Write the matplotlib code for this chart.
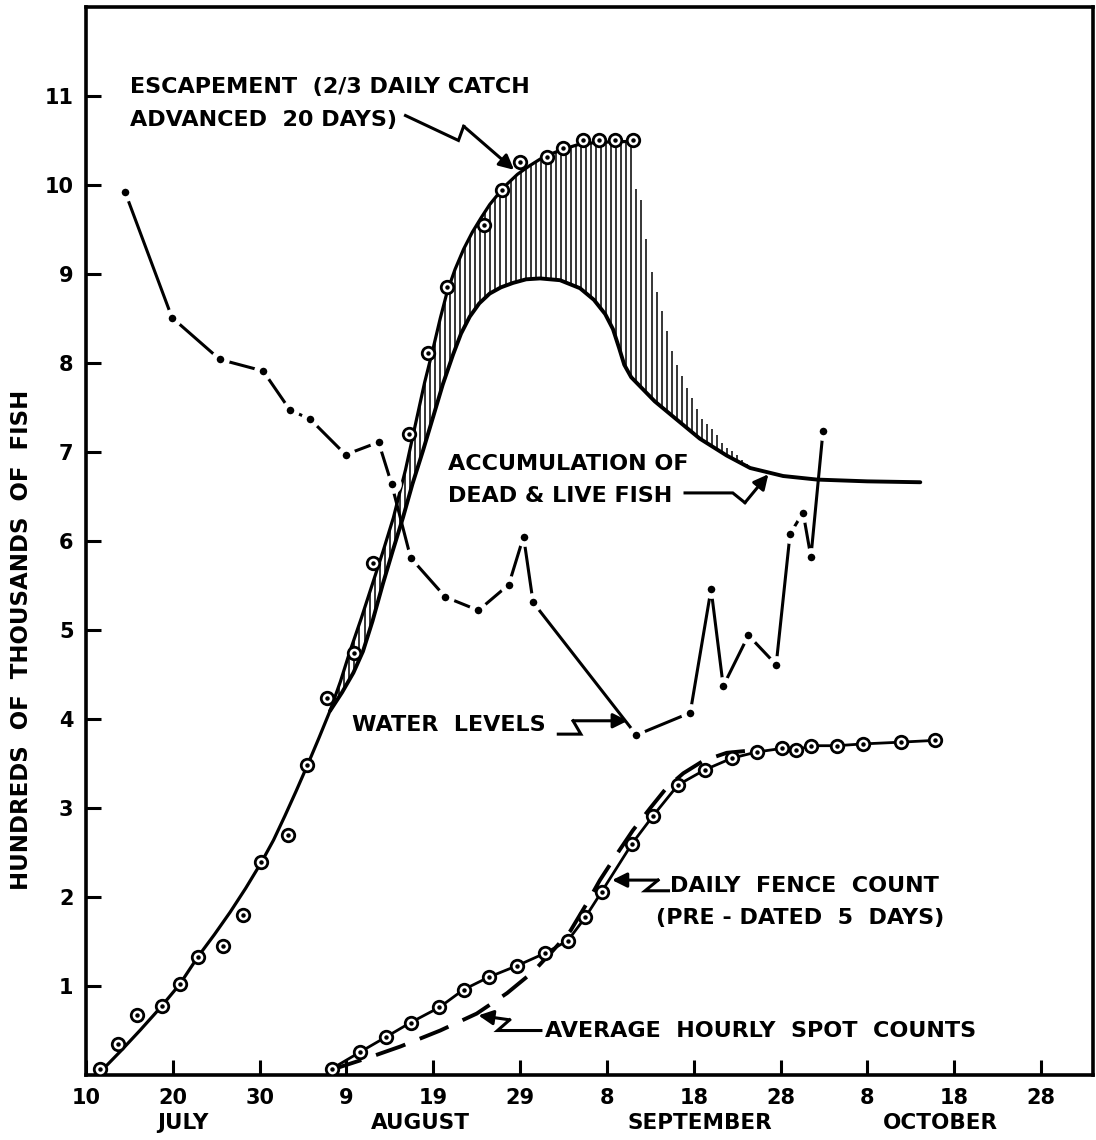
import numpy as np
import matplotlib
matplotlib.use("Agg")
import matplotlib.pyplot as plt

plt.rcParams['font.family'] = ['DejaVu Sans']
plt.rcParams['font.weight'] = 'bold'

# days are counted from 10 July; values in hundreds of thousands of fish

# escapement (2/3 daily catch advanced 20 days), observed points
esc_day = [1.6, 3.7, 5.9, 8.8, 10.8, 12.9, 15.8, 18.1, 20.2, 23.3, 25.5, 27.8,
           30.9, 33.1, 37.2, 39.4, 41.6, 45.9, 47.9, 50.0, 53.1, 55.0, 57.3,
           59.1, 60.9, 63.0]
esc_val = [0.07, 0.35, 0.67, 0.77, 1.02, 1.33, 1.45, 1.80, 2.39, 2.70, 3.48,
           4.24, 4.74, 5.75, 7.20, 8.11, 8.85, 9.55, 9.94, 10.26, 10.31, 10.41,
           10.50, 10.50, 10.50, 10.51]

# smoothed escapement curve
esc_fit_day = [1.6, 4.0, 6.2, 8.5, 10.8, 12.9, 14.8, 16.6, 18.4, 20.2, 21.6,
               22.9, 24.2, 25.5, 26.8, 28.1, 29.3, 30.4, 31.7, 32.9, 34.2,
               35.4, 36.8, 38.1, 39.0, 39.9, 40.8, 41.6, 42.5, 43.5, 44.5,
               45.5, 46.5, 47.5, 48.5, 49.7, 51.0, 52.3, 53.6, 54.9, 56.9,
               59.2, 63.0]
esc_fit_val = [0.03, 0.27, 0.50, 0.75, 1.02, 1.33, 1.58, 1.83, 2.10, 2.39,
               2.64, 2.91, 3.19, 3.48, 3.78, 4.09, 4.42, 4.76, 5.13, 5.49,
               5.88, 6.26, 6.80, 7.38, 7.78, 8.13, 8.50, 8.80, 9.05, 9.28,
               9.47, 9.63, 9.78, 9.90, 10.01, 10.12, 10.21, 10.29, 10.35,
               10.40, 10.46, 10.48, 10.49]

# escapement after the last catch day (tops of the shaded area)
tail_day = [63.0, 63.4, 64.0, 64.6, 65.2, 65.8, 66.4, 66.9, 67.6, 68.4, 69.3,
            70.3, 71.0, 72.5, 73.4, 74.4, 75.4, 76.2, 76.9]
tail_val = [10.50, 9.95, 9.83, 9.36, 8.99, 8.77, 8.55, 8.35, 8.08, 7.90, 7.70,
            7.50, 7.36, 7.22, 7.08, 7.01, 6.93, 6.86, 6.82]

# accumulation of dead & live fish
acc_day = [28.1, 29.5, 30.8, 31.9, 33.0, 34.2, 35.3, 36.5, 37.6, 38.8, 40.0,
           41.1, 42.3, 43.2, 44.2, 45.3, 46.5, 47.8, 49.2, 50.7, 52.3, 54.6,
           56.9, 58.5, 59.8, 60.7, 61.4, 62.0, 62.8, 64.0, 65.5, 67.6, 70.7,
           73.8, 76.5, 80.3, 84.2, 90.0, 96.1]
acc_val = [4.09, 4.30, 4.52, 4.76, 5.10, 5.52, 5.88, 6.26, 6.64, 7.01, 7.40,
           7.76, 8.10, 8.33, 8.52, 8.67, 8.78, 8.85, 8.90, 8.94, 8.95, 8.93,
           8.84, 8.71, 8.55, 8.38, 8.17, 7.98, 7.84, 7.72, 7.57, 7.40, 7.15,
           6.96, 6.82, 6.73, 6.69, 6.67, 6.66]

# water levels
wl_day = [4.5, 9.9, 15.4, 20.4, 23.5, 25.8, 29.9, 33.7, 35.2, 37.4, 41.4,
          45.2, 48.7, 50.4, 51.5, 63.4, 69.6, 72.0, 73.4, 76.3, 79.5, 81.1,
          82.6, 83.5, 84.9]
wl_val = [9.92, 8.51, 8.04, 7.91, 7.47, 7.37, 6.97, 7.11, 6.64, 5.81, 5.37,
          5.22, 5.51, 6.05, 5.31, 3.82, 4.07, 5.46, 4.37, 4.94, 4.61, 6.08,
          6.32, 5.82, 7.24]

# daily fence count (pre-dated 5 days)
fence_day = [28.3, 31.6, 34.6, 37.4, 40.7, 43.5, 46.4, 49.7, 52.9, 55.5, 57.5,
             59.4, 62.9, 65.3, 68.2, 71.3, 74.4, 77.3, 80.2, 81.8, 83.5, 86.5,
             89.5, 93.9, 97.8]
fence_val = [0.07, 0.26, 0.43, 0.59, 0.76, 0.96, 1.10, 1.23, 1.37, 1.51, 1.77,
             2.06, 2.60, 2.91, 3.26, 3.43, 3.56, 3.63, 3.67, 3.65, 3.70, 3.70,
             3.72, 3.74, 3.76]

# average hourly spot counts
spot_day = [28.3, 32.4, 36.2, 40.8, 45.0, 48.5, 51.5, 53.8, 55.8, 57.7, 59.2,
            61.2, 63.0, 65.0, 66.9, 68.8, 71.1, 73.8, 75.9]
spot_val = [0.06, 0.19, 0.32, 0.50, 0.69, 0.92, 1.16, 1.40, 1.62, 1.93, 2.19,
            2.49, 2.75, 3.00, 3.23, 3.39, 3.53, 3.62, 3.64]

tick_days = list(range(0, 111, 10))
tick_labels = ['10', '20', '30', '9', '19', '29', '8', '18', '28', '8', '18', '28']
months = ['JULY', 'AUGUST', 'SEPTEMBER', 'OCTOBER']
month_pos = [11.2, 38.5, 70.7, 98.4]

fig = plt.figure(figsize=(10.96, 11.40), dpi=100)
ax = fig.add_axes([0.0785, 0.057, 0.9188, 0.9369])
ax.set_xlim(0, 116)
ax.set_ylim(0, 12)

# shaded band between escapement and accumulation
hx = np.arange(28.6, 76.9, 0.58)
top = np.where(hx <= 63.0, np.interp(hx, esc_fit_day, esc_fit_val),
               np.interp(hx, tail_day, tail_val))
bot = np.interp(hx, acc_day, acc_val)
ax.vlines(hx, bot, top, color='black', lw=1.1)

ax.plot(esc_fit_day, esc_fit_val, color='black', lw=2.3,
        solid_capstyle='round', solid_joinstyle='round')
ax.plot(acc_day, acc_val, color='black', lw=2.8,
        solid_capstyle='round', solid_joinstyle='round')

# water levels: dots with a small white ring so the line stops short of them
ax.plot(wl_day, wl_val, color='black', lw=2.2, marker='o', ms=9.5,
        mfc='black', mec='white', mew=4, zorder=4)

ax.plot(spot_day, spot_val, color='black', lw=2.8, dashes=(8, 4), zorder=3)
ax.plot(fence_day, fence_val, color='black', lw=2.0, zorder=4)

for d, v in [(esc_day, esc_val), (fence_day, fence_val)]:
    ax.plot(d, v, ls='none', marker='o', ms=9, mfc='white', mec='black',
            mew=2.0, zorder=5)
    ax.plot(d, v, ls='none', marker='o', ms=2.2, color='black', zorder=6)

# labels and zig-zag pointers
txt = dict(fontsize=16, fontweight='bold', va='center', ha='left')
ax.text(5.1, 11.10, 'ESCAPEMENT  (2/3 DAILY CATCH', **txt)
ax.text(5.1, 10.73, 'ADVANCED  20 DAYS)', **txt)
ax.text(41.7, 6.87, 'ACCUMULATION OF', **txt)
ax.text(41.7, 6.50, 'DEAD & LIVE FISH', **txt)
ax.text(30.6, 3.93, 'WATER  LEVELS', **txt)
ax.text(67.3, 2.12, 'DAILY  FENCE  COUNT', **txt)
ax.text(65.6, 1.76, '(PRE - DATED  5  DAYS)', **txt)
ax.text(52.9, 0.49, 'AVERAGE  HOURLY  SPOT  COUNTS', **txt)


def zig(pts):
    xs, ys = zip(*pts[:-1])
    ax.plot(xs, ys, color='black', lw=2.2, solid_joinstyle='miter')
    ax.annotate('', xy=pts[-1], xytext=pts[-2],
                arrowprops=dict(arrowstyle='-|>', color='black', lw=2.2,
                                mutation_scale=22, shrinkA=0, shrinkB=0))


zig([(36.8, 10.78), (42.9, 10.50), (43.5, 10.66), (49.3, 10.17)])
zig([(69.0, 6.54), (74.5, 6.54), (75.9, 6.43), (78.6, 6.75)])
zig([(54.4, 3.83), (57.0, 3.83), (56.1, 3.98), (62.4, 3.98)])
zig([(67.1, 2.07), (64.4, 2.07), (65.9, 2.19), (60.6, 2.19)])
zig([(52.4, 0.50), (47.4, 0.50), (48.8, 0.62), (45.2, 0.67)])

ax.set_xticks(tick_days)
ax.set_xticklabels(tick_labels)
ax.set_yticks(range(1, 12))
ax.set_yticklabels([str(i) for i in range(1, 12)])
ax.tick_params(axis='both', direction='in', length=11, width=2.2,
               labelsize=15, pad=9)
for lab in ax.get_xticklabels() + ax.get_yticklabels():
    lab.set_fontweight('bold')
for s in ax.spines.values():
    s.set_linewidth(2.6)

tr = ax.get_xaxis_transform()
for m, p in zip(months, month_pos):
    ax.text(p, -0.045, m, transform=tr, ha='center', va='center',
            fontsize=15.5, fontweight='bold', clip_on=False)

fig.text(0.02, 0.439, 'HUNDREDS  OF  THOUSANDS  OF  FISH', rotation=90,
         ha='center', va='center', fontsize=16.5, fontweight='bold')

fig.savefig('out.png', dpi=100)
